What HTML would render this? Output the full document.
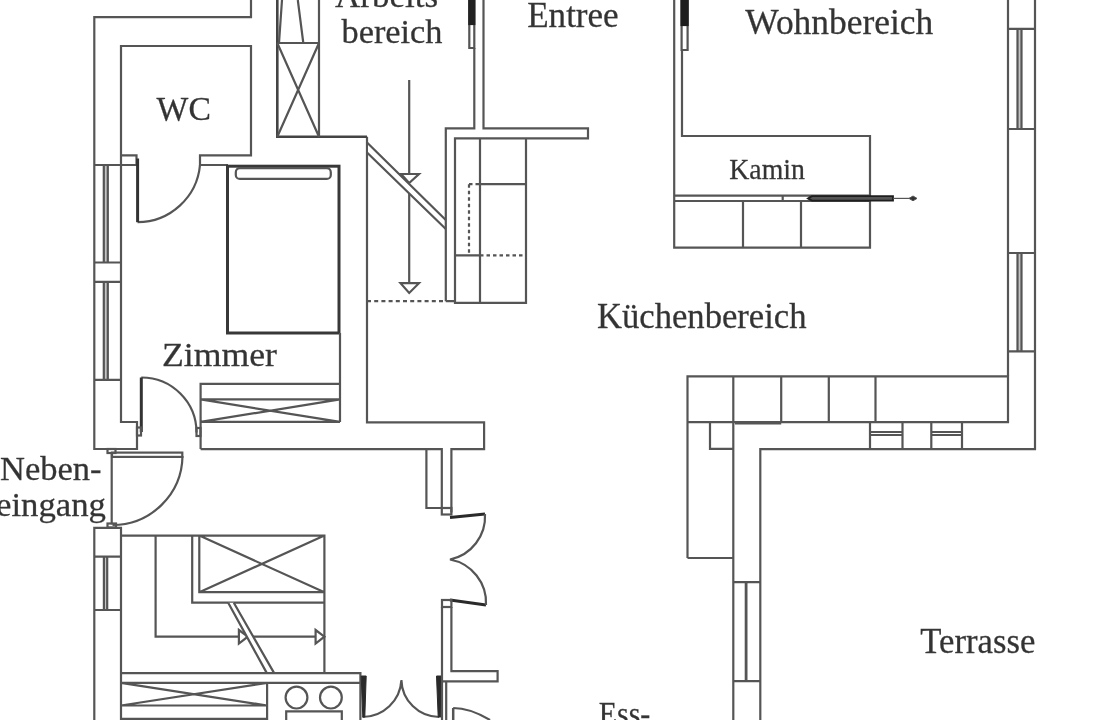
<!DOCTYPE html>
<html><head><meta charset="utf-8"><title>Grundriss</title>
<style>
html,body{margin:0;padding:0;background:#fff;}
body{width:1100px;height:720px;overflow:hidden;}
svg{display:block;}
text{font-family:"Liberation Serif",serif;fill:#333;stroke:#444;stroke-width:0.3;}
</style></head>
<body>
<svg width="1100" height="720" viewBox="0 0 1100 720">
<rect x="0" y="0" width="1100" height="720" fill="#fff"/>
<g fill="none" stroke="#555" stroke-width="2.2" stroke-linejoin="miter" stroke-linecap="butt">
<g fill="#c4c4c4" stroke="none">
<rect x="103.8" y="165" width="4" height="97.5"/><rect x="103.8" y="281.8" width="4" height="98"/>
<rect x="103.9" y="556.6" width="3.3" height="53.4"/>
<rect x="1017.5" y="28.8" width="4" height="100.2"/><rect x="1017.5" y="253" width="4" height="98.3"/>
</g>
<!-- ===== left outer wall & WC ===== -->
<path d="M251,0 V17.2 H94.3 V449 H137 V422 H121 V46 H251 V155.3 H200 V165 H228"/>
<path d="M121,155.3 H136.5 V165 M94.3,165 H137"/>
<!-- upper left window -->
<path d="M103.8,165 V262.5 M107.8,165 V262.5 M94.3,262.5 H121 M94.3,281.8 H121 M103.8,281.8 V379.8 M107.8,281.8 V379.8 M94.3,379.8 H121"/>
<!-- WC door -->
<path d="M137.6,222.2 A63,63 0 0 0 200,165"/>
<path d="M137.6,158.5 V222.2" stroke-width="3" stroke="#333"/>
<!-- bed -->
<rect x="227.5" y="166.2" width="111.5" height="166.8" stroke-width="3" stroke="#383838"/>
<rect x="235.8" y="168.2" width="95" height="10.7" rx="4"/>
<!-- Zimmer door -->
<path d="M141.3,377.5 A55,55 0 0 1 196.5,432.5"/>
<path d="M141.3,377.5 V432" stroke-width="3" stroke="#333"/>
<rect x="137" y="427.5" width="4" height="8"/>
<rect x="196.5" y="428" width="4" height="8"/>
<!-- wardrobe -->
<path d="M340,333 V383.8 M200.6,449 V383.8 H340 V422 M200.6,399.4 H340 M200.6,421.9 H340 M200.6,399.4 L340,421.9 M200.6,421.9 L340,399.4"/>
<!-- wall between Zimmer and lower room -->
<path d="M200.6,449.1 H441.8 V508 H426.4 V449.1"/>
<path d="M367,136.7 V422.3 H484.1 V449.1 H451.4 V512.5"/>
<!-- cabinet column top -->
<path d="M277.3,0 V136.7 H367" stroke-width="2.6" stroke="#444"/>
<path d="M319,0 V136.7 M277.3,43 H319 M277.3,43 L319,136.7 M319,43 L277.3,136.7 M282,0 L279,43 M297.8,0 L303.3,43"/>
<!-- stair rail diagonal -->

<!-- arrow -->
<path d="M409.2,80 V174 M409.2,190 V283.2 M401,174 H419 L409.2,183 Z M400.5,283.2 H419 L409.2,293 Z"/>
<path d="M368,142.5 L445,220 L445,229 L368,152.5 Z" fill="#fff" stroke="none"/>
<path d="M367,142.5 L445.8,220 M367,152.5 L445.8,229"/>
<path d="M367,301.2 H445" stroke-dasharray="4 3.2"/>
<!-- entree walls -->
<path d="M445.8,301.2 V128.3 H474.3 V48 M483.5,0 V128.3 H588 V138.3 H455 V302.8 H526 V138.3 M480,138.3 V302.8 M445.8,301.2 H455"/>
<path d="M469.3,0 V48 H474.3 V0" />
<rect x="469.3" y="0" width="5" height="24" fill="#222" stroke="#222"/>
<path d="M480,184.2 H526 M455,255.4 H480"/>
<path d="M469,184.2 H480 M469,184.2 V255 M480,255.4 H526" stroke-dasharray="3.5 3"/>
<!-- side entrance -->
<rect x="107.5" y="449" width="8" height="4"/>
<rect x="112" y="452.6" width="70.3" height="4.3"/>
<path d="M111.7,453 V524.4"/>
<path d="M182.5,456 A70,70 0 0 1 112.5,525"/>
<rect x="107.5" y="523.5" width="8.5" height="4"/>
<!-- lower left room -->
<path d="M94.3,720 V527.8 H121 V720 M94.3,556.6 H121 M94.3,610 H121 M103.9,556.6 V610 M107.2,556.6 V610"/>
<path d="M121,535.6 H324.4 V673.1 M155.6,535.6 V636.7 H238.9 M247.8,636.7 H315.6 M192.2,535.6 V602.7 H324.4 M199.3,535.6 V592.2 H324.4 M199.3,535.6 L324.4,592.2 M324.4,535.6 L199.3,592.2"/>

<path d="M238.9,630 L247.8,636.7 L238.9,643.5 Z M315.6,630 L324.4,636.7 L315.6,643.5 Z"/>
<path d="M228.2,602.7 L266.7,672.9 L274,672.9 L233.8,602.7 Z" fill="#fff" stroke="none"/>
<path d="M228.2,602.7 L266.7,672.9 M233.8,602.7 L274,672.9"/>
<path d="M121,673.1 H360.4 V720 M121,682.8 H360.4 M121,705.5 H267.1 M121,718.9 H267.1 M267.1,682.8 V720 M121,682.8 L267.1,705.5 M121,705.5 L267.1,682.8"/>
<circle cx="296.5" cy="697.6" r="10.9"/>
<circle cx="330.9" cy="697.6" r="10.9"/>
<path d="M286.2,720 V711.3 H341.8 V720"/>
<!-- lower double door (stove) -->
<path d="M362.5,717 A39,39 0 0 0 401.4,680 A38,38 0 0 0 439,717"/>
<path d="M361.2,676 L362.8,717 L364.8,717 L366.2,676 Z M436.5,676 L438.2,717 L440.8,717 L441.6,676 Z" fill="#2a2a2a" stroke="#2a2a2a" stroke-width="1"/>
<!-- right double door -->
<rect x="441.8" y="508" width="9.6" height="6.5"/>
<path d="M450,517.5 L485,514 M486,605 L450,600" stroke-width="3" stroke="#2a2a2a"/>
<path d="M485,514 A44,44 0 0 1 450,559.5 A44,44 0 0 1 486,605"/>
<rect x="442" y="600" width="9.4" height="7"/>
<path d="M442,607 V720 M451.4,607 V671.1 H497.6 V681.4 H442 M446.2,681.4 V720"/>
<path d="M453.2,708 Q470,708 490,720"/>
<path d="M453.2,708 V720" stroke-width="2.5"/>
<!-- ===== right part ===== -->
<path d="M674.2,0 V247.6 H870 V136 H682 V50"/>
<path d="M681.6,0 V50 H687.6 V0"/>
<rect x="681.6" y="0" width="6" height="25" fill="#1e1e1e" stroke="#1e1e1e"/>
<path d="M674.2,195.6 H870 M674.2,201 H870 M782.7,195.6 V201 M809.7,195.6 V201 M743,201 V247.6 M801,201 V247.6"/>
<path d="M812,196.2 H893 V200.6 H812 L808,198.4 Z" fill="#555" stroke="#1e1e1e" stroke-width="1.8"/>
<path d="M893,198.4 H912" stroke-width="1.2"/>
<path d="M909,198.4 L913,196 L917,198.4 L913,200.8 Z" fill="#333" stroke-width="1"/>
<!-- right wall -->
<path d="M1008,0 V376.3 M1035,0 V449.1 H760.3 V720 M1008,28.8 H1035 M1008,129 H1035 M1017.5,28.8 V129 M1021.5,28.8 V129 M1008,253 H1035 M1008,351.3 H1035 M1017.5,253 V351.3 M1021.5,253 V351.3"/>
<!-- counter -->
<path d="M687.5,558 V376.3 H1008 V422.2 H687.5 M733.3,376.3 V720 M781.2,376.3 V422.2 M828.8,376.3 V422.2 M875.5,376.3 V422.2 M687.5,558 H733.3 M710,422.2 V448.8 H733.3"/>
<path d="M735,423.2 H781.2" stroke-width="2.6"/>
<path d="M870,422.2 V449.1 M902.5,422.2 V449.1 M931.3,422.2 V449.1 M962,422.2 V449.1 M870,432 H902.5 M870,435 H902.5 M931.3,432 H962 M931.3,435 H962"/>
<!-- lower window right -->
<path d="M733.9,582.2 H760.6 M733.9,681.1 H760.6"/>
<path d="M746.1,582.2 V681.1" stroke-width="2.8"/>
</g>
<!-- ===== texts ===== -->
<g style="filter:grayscale(1)">
<text x="335" y="6.5" font-size="34.5" textLength="103.1" lengthAdjust="spacingAndGlyphs">Arbeits</text>
<text x="341.5" y="42.5" font-size="34.6" textLength="101" lengthAdjust="spacingAndGlyphs">bereich</text>
<text x="527.2" y="27" font-size="35.1" textLength="91.5" lengthAdjust="spacingAndGlyphs">Entree</text>
<text x="745.3" y="34" font-size="35" textLength="188" lengthAdjust="spacingAndGlyphs">Wohnbereich</text>
<text x="156.6" y="120.4" font-size="34.5" textLength="54.3" lengthAdjust="spacingAndGlyphs">WC</text>
<text x="597" y="328.3" font-size="35" textLength="209.5" lengthAdjust="spacingAndGlyphs">Küchenbereich</text>
<text x="162" y="366.2" font-size="33.6" textLength="115" lengthAdjust="spacingAndGlyphs">Zimmer</text>
<text x="0" y="480" font-size="33.9" textLength="101.5" lengthAdjust="spacingAndGlyphs">Neben-</text>
<text x="-4" y="516" font-size="33.8" textLength="110" lengthAdjust="spacingAndGlyphs">eingang</text>
<text x="920.3" y="652.5" font-size="35.6" textLength="115" lengthAdjust="spacingAndGlyphs">Terrasse</text>
<text x="598.8" y="725.3" font-size="34.5" textLength="51.5" lengthAdjust="spacingAndGlyphs">Ess-</text>
<text x="729.3" y="179.4" font-size="29.3" textLength="75.6" lengthAdjust="spacingAndGlyphs">Kamin</text>
</g>
</svg>
</body></html>
